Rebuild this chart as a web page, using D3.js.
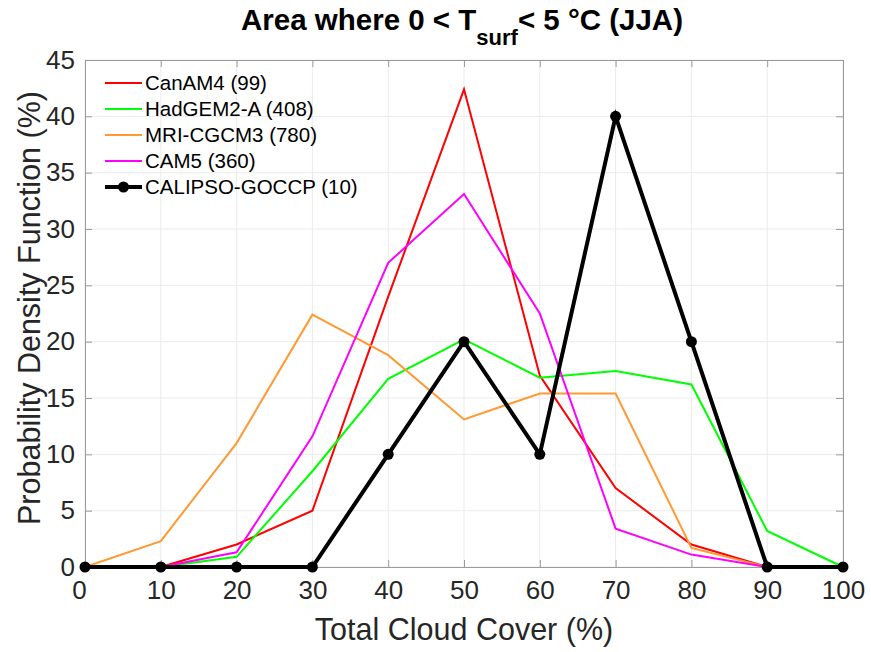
<!DOCTYPE html>
<html>
<head>
<meta charset="utf-8">
<script src="https://cdn.jsdelivr.net/npm/d3@7"></script>
<style>
  html, body { margin: 0; padding: 0; background: #fff; }
  svg { display: block; }
  text { font-family: "Liberation Sans", Arial, Helvetica, sans-serif; }
</style>
</head>
<body>
<svg id="chart" width="871" height="652"></svg>
<script>
const xValues = [0, 10, 20, 30, 40, 50, 60, 70, 80, 90, 100];
const canam4   = [null, 0, 2.0, 5.0, 24.0, 42.4, 17.0, 7.0, 2.0, 0, null];
const hadgem2a = [null, 0, 0.9, 8.5, 16.7, 20.2, 16.8, 17.4, 16.2, 3.2, 0];
const mricgcm3 = [0, 2.3, 11.0, 22.4, 18.8, 13.1, 15.4, 15.4, 1.7, 0, null];
const cam5     = [null, 0, 1.3, 11.6, 27.0, 33.1, 22.5, 3.4, 1.1, 0, null];
const calipso  = [0, 0, 0, 0, 10, 20, 10, 40, 20, 0, 0];

const seriesNames = ["CanAM4 (99)", "HadGEM2-A (408)", "MRI-CGCM3 (780)", "CAM5 (360)", "CALIPSO-GOCCP (10)"];
const seriesData = [canam4, hadgem2a, mricgcm3, cam5, calipso];
const seriesColors = ["#ff0000", "#00ff00", "#ff9933", "#ff00ff", "#000000"];

const xTicks = [0, 10, 20, 30, 40, 50, 60, 70, 80, 90, 100];
const yTicks = [0, 5, 10, 15, 20, 25, 30, 35, 40, 45];

const svg = d3.select("#chart");
const m = { left: 85, right: 843, top: 60, bottom: 567 };
const x = d3.scaleLinear().domain([0, 100]).range([m.left, m.right]);
const y = d3.scaleLinear().domain([0, 45]).range([m.bottom, m.top]);

// grid
const g = svg.append("g");
g.selectAll(".vg").data(xTicks).enter().append("line")
  .attr("x1", d => x(d)).attr("x2", d => x(d)).attr("y1", m.top).attr("y2", m.bottom)
  .attr("stroke", "#ebebeb").attr("stroke-width", 1);
g.selectAll(".hg").data(yTicks).enter().append("line")
  .attr("y1", d => y(d)).attr("y2", d => y(d)).attr("x1", m.left).attr("x2", m.right)
  .attr("stroke", "#ebebeb").attr("stroke-width", 1);

// axes
const axColor = "#262626";
const fontSize = 26;
const xAxis = d3.axisBottom(x).tickValues(xTicks).tickSizeInner(-7).tickSizeOuter(0).tickPadding(14);
const xAxisTop = d3.axisTop(x).tickValues(xTicks).tickSizeInner(-7).tickSizeOuter(0).tickFormat("");
const yAxis = d3.axisLeft(y).tickValues(yTicks).tickSizeInner(-7).tickSizeOuter(0).tickPadding(10);
const yAxisRight = d3.axisRight(y).tickValues(yTicks).tickSizeInner(-7).tickSizeOuter(0).tickFormat("");

function style(sel) {
  sel.selectAll(".domain").attr("stroke", "#9a9a9a").attr("stroke-width", 1);
  sel.selectAll(".tick line").attr("stroke", "#9a9a9a");
  sel.selectAll(".tick text").attr("fill", axColor).attr("font-size", fontSize)
    .style("font-family", '"Liberation Sans", Arial, Helvetica, sans-serif');
}
const xg = svg.append("g").attr("transform", `translate(0,${m.bottom})`).call(xAxis).call(style);
xg.selectAll(".tick text").filter(d => d === 0).attr("dx", -6);
svg.append("g").attr("transform", `translate(0,${m.top})`).call(xAxisTop).call(style);
svg.append("g").attr("transform", `translate(${m.left},0)`).call(yAxis).call(style);
svg.append("g").attr("transform", `translate(${m.right},0)`).call(yAxisRight).call(style);

// lines
const line = d3.line().defined(d => d[1] !== null).x(d => x(d[0])).y(d => y(d[1]));
seriesData.forEach((s, i) => {
  const pts = xValues.map((xv, j) => [xv, s[j]]);
  svg.append("path").datum(pts).attr("d", line)
    .attr("fill", "none").attr("stroke", seriesColors[i])
    .attr("stroke-width", i === 4 ? 4 : 2).attr("stroke-linejoin", "miter");
});
// markers for CALIPSO
svg.selectAll(".mk").data(xValues.map((xv, j) => [xv, calipso[j]])).enter()
  .append("circle").attr("cx", d => x(d[0])).attr("cy", d => y(d[1])).attr("r", 5.5).attr("fill", "#000");

// legend
const lg = svg.append("g");
seriesNames.forEach((n, i) => {
  const yy = 83 + i * 26;
  lg.append("line").attr("x1", 105).attr("x2", 142).attr("y1", yy).attr("y2", yy)
    .attr("stroke", seriesColors[i]).attr("stroke-width", i === 4 ? 4 : 2);
  if (i === 4) lg.append("circle").attr("cx", 123.5).attr("cy", yy).attr("r", 5.5).attr("fill", "#000");
  lg.append("text").attr("x", 145).attr("y", yy).attr("dy", "0.35em")
    .attr("font-size", 20.5).attr("fill", "#000").text(n);
});

// axis titles
svg.append("text").attr("x", 464).attr("y", 640)
  .attr("text-anchor", "middle").attr("font-size", 30.5).attr("fill", axColor)
  .text("Total Cloud Cover (%)");
svg.append("text").attr("transform", `translate(40,308) rotate(-90)`)
  .attr("text-anchor", "middle").attr("font-size", 30.5).attr("fill", axColor)
  .text("Probability Density Function (%)");

// title
const t = svg.append("text").attr("x", 462).attr("y", 30)
  .attr("text-anchor", "middle").attr("font-size", 29.5).attr("font-weight", "bold").attr("fill", "#000");
t.append("tspan").text("Area where 0 < T");
t.append("tspan").attr("font-size", 22).attr("dy", 15).text("surf");
t.append("tspan").attr("dy", -15).text("< 5 °C (JJA)");
</script>
</body>
</html>
